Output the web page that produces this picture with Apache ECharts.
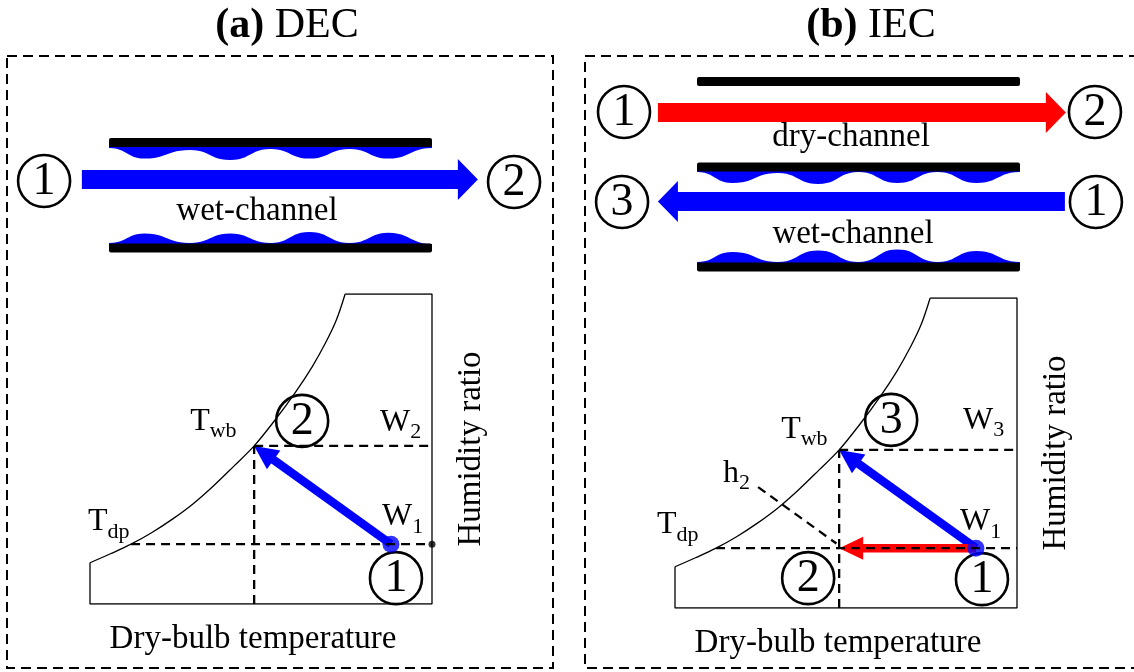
<!DOCTYPE html>
<html>
<head>
<meta charset="utf-8">
<script src="https://cdn.jsdelivr.net/npm/echarts@6/dist/echarts.min.js"></script>
<style>
  html, body { margin: 0; padding: 0; background: #fff; }
  #chart { width: 1134px; height: 672px; }
</style>
</head>
<body>
<div id="chart"></div>
<script>
// ---------- psychrometric sketch: dry-bulb temperature vs humidity ratio (0–100 scale) ----------
const satT = [0, 6, 12, 18, 24, 30, 36, 42, 48, 54, 60, 65, 69, 72, 74.6];
const satW = [13.3, 16.2, 19.3, 23, 27.3, 32.2, 38, 44.4, 51, 59.2, 68.2, 76.6, 84.5, 91.5, 100];

// process states
const Tdp = 12;   // dew point
const Twb = 48;   // wet bulb
const T1 = 88;    // inlet air
const W1 = 19.3;  // inlet humidity ratio
const Wwb = 51;   // humidity ratio at saturation (W2 for DEC, W3 for IEC)
const h2Ends = [[24.3, 39], [47.2, 20.8]];  // constant-enthalpy line through state 2

// ---------- channel schematics (x: 0–100 along the plates, y: 0–110 downward) ----------
const filmStations = [0, 11, 25, 37.5, 50, 62, 74.5, 86.5, 100];
const decFilmTop = [0.5, 5.8, 1.5, 6.5, 1, 5.8, 1, 5.8, 0.5];
const decFilmBottom = [0.5, 5.2, 0.5, 5.2, 0.5, 6, 0.5, 5.6, 0];
const iecFilmMid = [0.5, 6, 1, 6.5, 0.5, 6, 0.5, 6, 0.5];
const iecFilmBottom = [0.5, 5.5, 0.5, 6.3, 0.5, 6.8, 0.5, 6, 0.5];

const decWalls = [41.25, 94];
const decFilms = [[43.5, 1, decFilmTop], [92, -1, decFilmBottom]];
const decFlows = [[-8.4, 114.2, 59.8, 'wet']];
const decNodes = [[-20.1, 60.5, '1'], [125.4, 61, '2']];
const decCaptions = [['wet-channel', 45.8, 75.5]];

const iecWalls = [10.75, 53.5, 103.5];
const iecFilms = [[55.5, 1, iecFilmMid], [101.5, -1, iecFilmBottom]];
const iecFlows = [[-12.1, 114.2, 26.25, 'dry'], [113.9, -12.1, 70.75, 'wet']];
const iecNodes = [[-22.6, 26, '1'], [123.2, 26, '2'], [-23.2, 71, '3'], [123.5, 71, '1']];
const iecCaptions = [['dry-channel', 47.7, 38.5], ['wet-channel', 48.3, 87]];

// ---------- styling helpers ----------
const SERIF = '"Liberation Serif", "Times New Roman", serif';
const BLUE = '#0000ff';
const RED = '#ff0000';
const flowColor = { wet: BLUE, dry: RED };
const CIRCLE_R = 26;
const DIGIT_SIZE = 46;

const measureCtx = document.createElement('canvas').getContext('2d');
function textWidth(text, size) {
  measureCtx.font = size + 'px ' + SERIF;
  return measureCtx.measureText(text).width;
}
// place text so that its alphabetic baseline sits at `base`
function textAtBaseline(text, x, base, size, align) {
  return {
    type: 'text', x: x, y: base - 0.3375 * size,
    style: { text: text, fontSize: size, fontFamily: SERIF, fill: '#000',
             align: align || 'left', verticalAlign: 'middle' }
  };
}
function circledDigit(cx, cy, digit) {
  return [
    { type: 'circle', shape: { cx: cx, cy: cy, r: CIRCLE_R },
      style: { fill: 'none', stroke: '#000', lineWidth: 2.6 } },
    { type: 'text', x: cx, y: cy + 1,
      style: { text: digit, fontSize: DIGIT_SIZE, fontFamily: SERIF, fill: '#000',
               align: 'center', verticalAlign: 'middle' } }
  ];
}

// ---------- psychrometric panel ----------
function psychroSeries(gi, iec) {
  const ax = { xAxisIndex: gi, yAxisIndex: gi };
  const satData = satT.map((t, i) => [t, satW[i]]);
  const frame = [[satT[satT.length - 1], 100], [100, 100], [100, 0], [0, 0], [0, satW[0]]];
  const dashed = [
    [[Tdp, W1], [100, W1]],
    [[Twb, Wwb], [100, Wwb]],
    [[Twb, 0], [Twb, Wwb]]
  ];
  if (iec) dashed.push(h2Ends);

  const out = [];
  out.push(Object.assign({ type: 'line', data: frame, symbol: 'none', silent: true,
    lineStyle: { color: '#000', width: 1.3 } }, ax));
  out.push(Object.assign({ type: 'line', data: satData, symbol: 'none', smooth: 0.35, silent: true,
    lineStyle: { color: '#000', width: 1.3 } }, ax));
  dashed.forEach(seg => out.push(Object.assign({ type: 'line', data: seg, symbol: 'none', silent: true,
    lineStyle: { color: '#000', width: 2.3, type: [9, 6] } }, ax)));

  // process arrows: [fromT, fromW, toT, toW]
  const arrows = [[T1, W1, Twb, Wwb, 'wet']];
  if (iec) arrows.push([T1, W1, Twb, W1, 'dry']);
  out.push(Object.assign({
    type: 'custom', clip: false, silent: true,
    data: arrows.map(a => a.slice(0, 4)),
    renderItem(params, api) {
      const a = arrows[params.dataIndex];
      const p1 = api.coord([a[0], a[1]]);
      const p2 = api.coord([a[2], a[3]]);
      const dx = p2[0] - p1[0], dy = p2[1] - p1[1];
      const len = Math.hypot(dx, dy);
      const ux = dx / len, uy = dy / len, nx = -uy, ny = ux;
      const L = 24, H = 11.5;
      const bx = p2[0] - ux * L, by = p2[1] - uy * L;
      const color = flowColor[a[4]];
      return { type: 'group', children: [
        { type: 'line', shape: { x1: p1[0], y1: p1[1], x2: bx + ux * 2, y2: by + uy * 2 },
          style: { stroke: color, lineWidth: 8.5 } },
        { type: 'polygon', shape: { points: [[p2[0], p2[1]], [bx + nx * H, by + ny * H], [bx - nx * H, by - ny * H]] },
          style: { fill: color } }
      ] };
    }
  }, ax));

  out.push(Object.assign({ type: 'scatter', data: [[T1, W1]], symbol: 'circle', symbolSize: 17,
    silent: true, itemStyle: { color: BLUE } }, ax));
  if (!iec) {
    out.push(Object.assign({ type: 'scatter', data: [[100, W1]], symbol: 'circle', symbolSize: 7,
      silent: true, itemStyle: { color: '#000' } }, ax));
  }

  // annotation labels anchored on the states, offsets in pixels
  const labels = iec ? [
    { at: [Twb, Wwb], main: 'T', sub: 'wb', dx: -58, dy: -10 },
    { at: [Twb, Wwb], circle: '3', dx: 52, dy: -30 },
    { at: [100, Wwb], main: 'W', sub: '3', dx: -54, dy: -19 },
    { at: [100, W1], main: 'W', sub: '1', dx: -57, dy: -16 },
    { at: [Tdp, W1], main: 'T', sub: 'dp', dx: -59, dy: -13 },
    { at: h2Ends[0], main: 'h', sub: '2', dx: -35, dy: -3 },
    { at: [T1, W1], circle: '1', dx: 6, dy: 31 },
    { at: [Twb, W1], circle: '2', dx: -31, dy: 30 }
  ] : [
    { at: [Twb, Wwb], main: 'T', sub: 'wb', dx: -64, dy: -14 },
    { at: [Twb, Wwb], circle: '2', dx: 48, dy: -25 },
    { at: [100, Wwb], main: 'W', sub: '2', dx: -52, dy: -13 },
    { at: [100, W1], main: 'W', sub: '1', dx: -50, dy: -17 },
    { at: [Tdp, W1], main: 'T', sub: 'dp', dx: -43, dy: -12 },
    { at: [T1, W1], circle: '1', dx: 5, dy: 34 }
  ];
  out.push(Object.assign({
    type: 'custom', clip: false, silent: true,
    data: labels.map(l => l.at),
    renderItem(params, api) {
      const l = labels[params.dataIndex];
      const p = api.coord(l.at);
      const x = p[0] + l.dx, y = p[1] + l.dy;
      if (l.circle) return { type: 'group', children: circledDigit(x, y, l.circle) };
      const w = textWidth(l.main, 32);
      return { type: 'group', children: [
        textAtBaseline(l.main, x, y, 32),
        textAtBaseline(l.sub, x + w, y + 7, 22)
      ] };
    }
  }, ax));
  return out;
}

// ---------- channel panel ----------
function channelSeries(gi, walls, films, flows, nodes, captions) {
  const ax = { xAxisIndex: gi, yAxisIndex: gi };
  const out = [];

  // wetted water films (wavy layers on the plates)
  out.push(Object.assign({
    type: 'custom', clip: false, silent: true,
    data: films.map(f => [0, f[0]]),
    renderItem(params, api) {
      const f = films[params.dataIndex];
      const edge = f[0], dir = f[1], depth = f[2];
      const pts = [];
      for (let i = 0; i < filmStations.length - 1; i++) {
        const x0 = filmStations[i], x1 = filmStations[i + 1];
        const y0 = edge + dir * depth[i], y1 = edge + dir * depth[i + 1];
        const hx = (x1 - x0) / 2;
        for (let k = 0; k < 12; k++) {
          const t = k / 12, m = 1 - t;
          const bx = m * m * m * x0 + 3 * m * m * t * (x0 + hx) + 3 * m * t * t * (x1 - hx) + t * t * t * x1;
          const by = m * m * m * y0 + 3 * m * m * t * y0 + 3 * m * t * t * y1 + t * t * t * y1;
          pts.push(api.coord([bx, by]));
        }
      }
      const last = filmStations.length - 1;
      pts.push(api.coord([filmStations[last], edge + dir * depth[last]]));
      pts.push(api.coord([100, edge - dir * 1]));
      pts.push(api.coord([0, edge - dir * 1]));
      return { type: 'polygon', shape: { points: pts }, style: { fill: BLUE } };
    }
  }, ax));

  // plates
  out.push(Object.assign({
    type: 'custom', clip: false, silent: true,
    data: walls.map(w => [0, w]),
    renderItem(params, api) {
      const w = walls[params.dataIndex];
      const a = api.coord([0, w]), b = api.coord([100, w]);
      return { type: 'rect', shape: { x: a[0], y: a[1] - 4.5, width: b[0] - a[0], height: 9, r: 2 },
        style: { fill: '#000' } };
    }
  }, ax));

  // air-stream arrows
  out.push(Object.assign({
    type: 'custom', clip: false, silent: true,
    data: flows.map(f => [f[0], f[2]]),
    renderItem(params, api) {
      const f = flows[params.dataIndex];
      const a = api.coord([f[0], f[2]]), b = api.coord([f[1], f[2]]);
      const s = b[0] > a[0] ? 1 : -1;
      const L = 20, BH = 9.5, HH = 20.5, y = a[1];
      const base = b[0] - s * L;
      return { type: 'polygon', shape: { points: [
        [a[0], y - BH], [base, y - BH], [base, y - HH], [b[0], y],
        [base, y + HH], [base, y + BH], [a[0], y + BH]
      ] }, style: { fill: flowColor[f[3]] } };
    }
  }, ax));

  // inlet / outlet state markers
  out.push(Object.assign({
    type: 'custom', clip: false, silent: true,
    data: nodes.map(n => [n[0], n[1]]),
    renderItem(params, api) {
      const n = nodes[params.dataIndex];
      const p = api.coord([n[0], n[1]]);
      return { type: 'group', children: circledDigit(p[0], p[1], n[2]) };
    }
  }, ax));

  // channel names
  out.push(Object.assign({
    type: 'custom', clip: false, silent: true,
    data: captions.map(c => [c[1], c[2]]),
    renderItem(params, api) {
      const c = captions[params.dataIndex];
      const p = api.coord([c[1], c[2]]);
      return { type: 'text', x: p[0], y: p[1],
        style: { text: c[0], fontSize: 33, fontFamily: SERIF, fill: '#000', align: 'center', verticalAlign: 'middle' } };
    }
  }, ax));
  return out;
}

// ---------- axes ----------
function psychroX(gi) {
  return {
    type: 'value', gridIndex: gi, min: 0, max: 100,
    axisLine: { show: false }, axisTick: { show: false }, axisLabel: { show: false }, splitLine: { show: false },
    name: 'Dry-bulb temperature', nameLocation: 'middle', nameGap: 19,
    nameTextStyle: { fontFamily: SERIF, fontSize: 33, color: '#000', padding: [0, 16, 0, 0] }
  };
}
function psychroY(gi) {
  return {
    type: 'value', gridIndex: gi, min: 0, max: 100, position: 'right',
    axisLine: { show: false }, axisTick: { show: false }, axisLabel: { show: false }, splitLine: { show: false },
    name: 'Humidity ratio', nameLocation: 'middle', nameRotate: 90, nameGap: 23,
    nameTextStyle: { fontFamily: SERIF, fontSize: 33, color: '#000' }
  };
}
function channelX(gi) { return { type: 'value', gridIndex: gi, min: 0, max: 100, show: false }; }
function channelY(gi) { return { type: 'value', gridIndex: gi, min: 0, max: 110, inverse: true, show: false }; }

const chart = echarts.init(document.getElementById('chart'), null, { renderer: 'canvas' });
chart.setOption({
  backgroundColor: '#fff',
  animation: false,
  grid: [
    { left: 90, top: 294, width: 342, height: 310 },
    { left: 675, top: 298, width: 342, height: 310 },
    { left: 109, top: 60, width: 323, height: 220 },
    { left: 697, top: 60, width: 323, height: 220 }
  ],
  xAxis: [psychroX(0), psychroX(1), channelX(2), channelX(3)],
  yAxis: [psychroY(0), psychroY(1), channelY(2), channelY(3)],
  graphic: [
    { type: 'rect', silent: true, shape: { x: 7, y: 56, width: 546, height: 612 },
      style: { fill: 'none', stroke: '#000', lineWidth: 2, lineDash: [10, 6] } },
    { type: 'rect', silent: true, shape: { x: 585, y: 56, width: 580, height: 612 },
      style: { fill: 'none', stroke: '#000', lineWidth: 2, lineDash: [10, 6] } },
    { type: 'text', x: 287, y: 26, silent: true,
      style: { text: '{b|(a)} DEC', fontSize: 42, fontFamily: SERIF, fill: '#000', align: 'center', verticalAlign: 'middle',
        rich: { b: { fontSize: 42, fontFamily: SERIF, fontWeight: 'bold', fill: '#000' } } } },
    { type: 'text', x: 871, y: 26, silent: true,
      style: { text: '{b|(b)} IEC', fontSize: 42, fontFamily: SERIF, fill: '#000', align: 'center', verticalAlign: 'middle',
        rich: { b: { fontSize: 42, fontFamily: SERIF, fontWeight: 'bold', fill: '#000' } } } }
  ],
  series: [].concat(
    channelSeries(2, decWalls, decFilms, decFlows, decNodes, decCaptions),
    channelSeries(3, iecWalls, iecFilms, iecFlows, iecNodes, iecCaptions),
    psychroSeries(0, false),
    psychroSeries(1, true)
  )
});
</script>
</body>
</html>
